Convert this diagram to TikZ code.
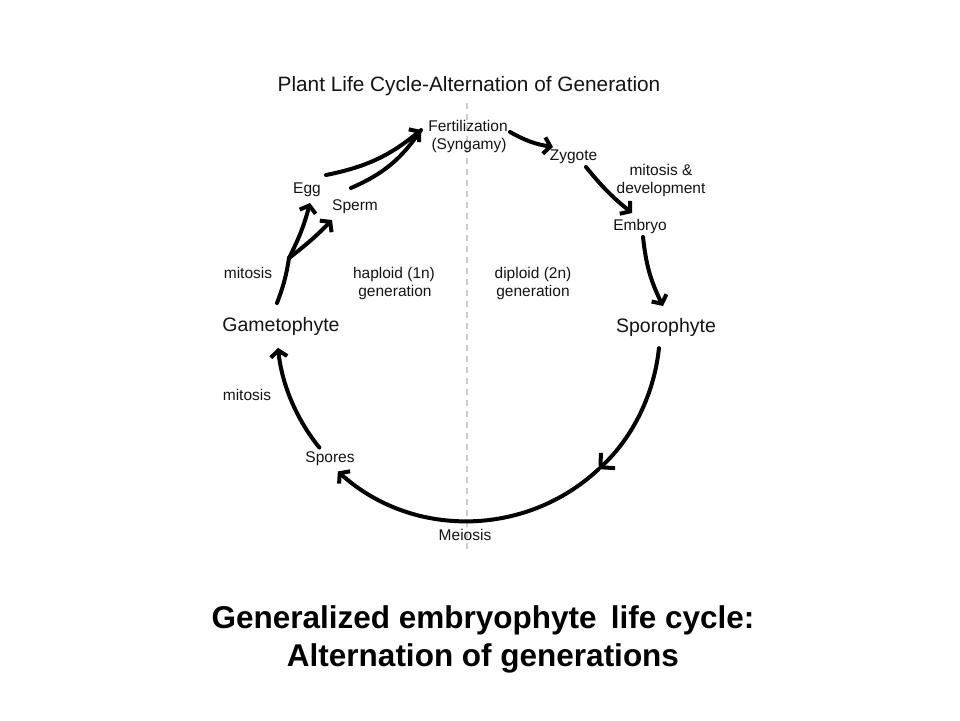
\documentclass[tikz,border=0pt]{standalone}
\usepackage{fontspec}
\setmainfont{Liberation Sans}
\usetikzlibrary{arrows.meta}
\begin{document}
\begin{tikzpicture}[x=1pt,y=-1pt,
  lbl/.style={font=\fontsize{15.5}{18.5}\selectfont, text=black!92, inner sep=0pt, anchor=base},
  biglbl/.style={font=\fontsize{19.5}{23}\selectfont, text=black!92, inner sep=0pt, anchor=base},
  titlelbl/.style={font=\fontsize{20.8}{24}\selectfont, text=black!92, inner sep=0pt, anchor=base},
  caplbl/.style={font=\fontsize{31.5}{36}\selectfont\bfseries, text=black, inner sep=0pt, anchor=base},
  arr/.style={line width=4pt, line cap=round, line join=round, -{Straight Barb[length=6.5pt,width=16.5pt]}},
  bigarr/.style={line width=4pt, line cap=round, line join=round, -{Straight Barb[length=10pt,width=21pt]}},
  plainarr/.style={line width=4pt, line cap=round, line join=round},
  divider/.style={draw=black!20, line width=1.3pt, dash pattern=on 6pt off 5pt}
]
\useasboundingbox[fill=white] (0,0) rectangle (960,720);

% dividing line
\coordinate (dtop) at (467,103);
\coordinate (dbot) at (467,550);
\draw[divider] (dtop) -- (dbot);

% title
\node[titlelbl] (title) at (469,91) {Plant Life Cycle-Alternation of Generation};

% labels
\node[lbl] (fert1) at (468,131) {Fertilization};
\node[lbl] (fert2) at (469,149) {(Syngamy)};
\node[lbl] (zyg) at (573.5,160) {Zygote};
\node[lbl] (mit1a) at (661,175) {mitosis \&};
\node[lbl] (mit1b) at (661,193) {development};
\node[lbl] (emb) at (640,230) {Embryo};
\node[biglbl] (spo) at (666,332) {Sporophyte};
\node[lbl] (dip1) at (533,278) {diploid (2n)};
\node[lbl] (dip2) at (533,296.5) {generation};
\node[lbl] (hap1) at (394,278) {haploid (1n)};
\node[lbl] (hap2) at (395,296.5) {generation};
\node[lbl] (mit2) at (248,278) {mitosis};
\node[biglbl] (gam) at (281,331) {Gametophyte};
\node[lbl] (egg) at (307,193) {Egg};
\node[lbl] (sperm) at (355,210) {Sperm};
\node[lbl] (mit3) at (247,400) {mitosis};
\node[lbl] (spores) at (330,462) {Spores};
\node[lbl] (mei) at (465,540) {Meiosis};

% caption
\node[caplbl] (cap1) at (483,628) {Generalized embryophyte\, life cycle:};
\node[caplbl] (cap2) at (483,666) {Alternation of generations};

% connector end points
\coordinate (c) at (467,328);
\coordinate (spoout) at ([shift={(6:193)}]c);
\coordinate (midpt) at ([shift={(47:193)}]c);
\coordinate (gamout) at (277,303);
\coordinate (br) at (289,258);
\coordinate (eggin) at (310,203);
\coordinate (spermin) at (332,220);
\coordinate (eggout) at (326,175);
\coordinate (spermout) at (351,188);
\coordinate (fertin) at (421,130);
\coordinate (fertout) at (510,132);
\coordinate (zygin) at (553,147);
\coordinate (zygout) at (586,167);
\coordinate (embin) at (632,213);
\coordinate (embout) at (643,237);
\coordinate (spoin) at (663,306);
\coordinate (sporesout) at ([shift={(141:190)}]c);

% connectors
\draw[bigarr] (spoout) arc[start angle=6, end angle=47, radius=193];
\draw[arr] (midpt) arc[start angle=47, end angle=132, radius=193];
\draw[arr] (sporesout) arc[start angle=141, end angle=174, radius=190];
\draw[plainarr] (gamout) to[bend right=6] (br);
\draw[arr] (br) to[bend right=6] (eggin);
\draw[arr] (br) to[bend right=4] (spermin);
\draw[arr] (eggout) to[bend right=14] (fertin);
\draw[plainarr] (spermout) to[bend right=16] (fertin);
\draw[arr] (fertout) to[bend right=10] (zygin);
\draw[arr] (zygout) to[bend right=6] (embin);
\draw[arr] (embout) to[bend right=10] (spoin);
\end{tikzpicture}
\end{document}
